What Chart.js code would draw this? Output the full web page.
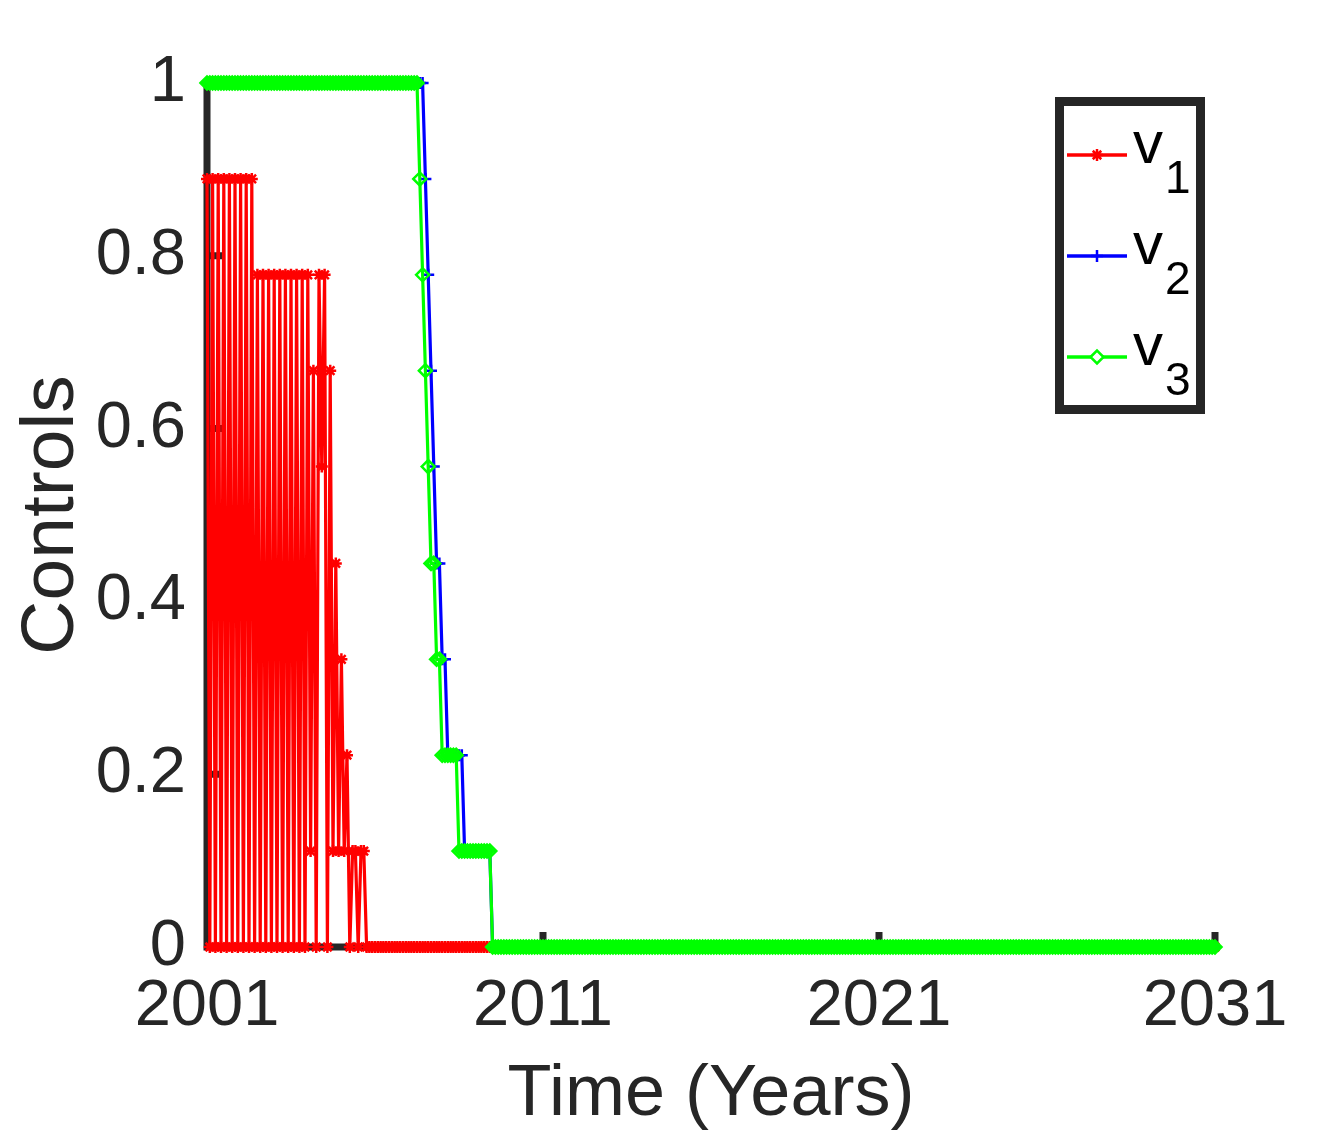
<!DOCTYPE html>
<html>
<head>
<meta charset="utf-8">
<script src="https://cdn.jsdelivr.net/npm/chart.js@4.4.0/dist/chart.umd.min.js"></script>
<style>
  html, body { margin: 0; padding: 0; background: #fff; }
  canvas { display: block; }
</style>
</head>
<body>
<canvas id="myChart" width="1344" height="1134"></canvas>
<script>
// monthly samples, 2001 .. 2031
var tempo = [];
for (let k = 0; k <= 360; k++) tempo.push(2001 + k / 12);

var xTicks = [2001, 2011, 2021, 2031];
var yTicks = [0, 0.2, 0.4, 0.6, 0.8, 1];
var nomes = ['v', 'v', 'v'];
var indices = ['1', '2', '3'];
var cores = ['#ff0000', '#0000ff', '#00ff00'];

// v1 (one line per year)
var v1 = [
  0.889,0,0.889,0,0.889,0,0.889,0,0.889,0,0.889,0,
  0.889,0,0.889,0,0.889,0,0.778,0,0.778,0,0.778,0,
  0.778,0,0.778,0,0.778,0,0.778,0,0.778,0,0.778,0,
  0.778,0.111,0.667,0,0.778,0.556,0.778,0,0.667,0.111,0.444,0.111,
  0.333,0.111,0.222,0,0.111,0.111,0,0.111,0.111,0,0,0,
  0,0,0,0,0,0,0,0,0,0,0,0,
  0,0,0,0,0,0,0,0,0,0,0,0,
  0,0,0,0,0,0,0,0,0,0,0,0,
  0,0,0,0,0,0,0,0,0,0,0,0,
  0,0,0,0,0,0,0,0,0,0,0,0,
  0,0,0,0,0,0,0,0,0,0,0,0,
  0,0,0,0,0,0,0,0,0,0,0,0,
  0,0,0,0,0,0,0,0,0,0,0,0,
  0,0,0,0,0,0,0,0,0,0,0,0,
  0,0,0,0,0,0,0,0,0,0,0,0,
  0,0,0,0,0,0,0,0,0,0,0,0,
  0,0,0,0,0,0,0,0,0,0,0,0,
  0,0,0,0,0,0,0,0,0,0,0,0,
  0,0,0,0,0,0,0,0,0,0,0,0,
  0,0,0,0,0,0,0,0,0,0,0,0,
  0,0,0,0,0,0,0,0,0,0,0,0,
  0,0,0,0,0,0,0,0,0,0,0,0,
  0,0,0,0,0,0,0,0,0,0,0,0,
  0,0,0,0,0,0,0,0,0,0,0,0,
  0,0,0,0,0,0,0,0,0,0,0,0,
  0,0,0,0,0,0,0,0,0,0,0,0,
  0,0,0,0,0,0,0,0,0,0,0,0,
  0,0,0,0,0,0,0,0,0,0,0,0,
  0,0,0,0,0,0,0,0,0,0,0,0,
  0,0,0,0,0,0,0,0,0,0,0,0,
  0
];

var v2 = [
  1,1,1,1,1,1,1,1,1,1,1,1,
  1,1,1,1,1,1,1,1,1,1,1,1,
  1,1,1,1,1,1,1,1,1,1,1,1,
  1,1,1,1,1,1,1,1,1,1,1,1,
  1,1,1,1,1,1,1,1,1,1,1,1,
  1,1,1,1,1,1,1,1,1,1,1,1,
  1,1,1,1,1,1,0.889,0.778,0.667,0.556,0.444,0.444,
  0.333,0.333,0.222,0.222,0.222,0.222,0.222,0.222,0.111,0.111,0.111,0.111,
  0.111,0.111,0.111,0.111,0.111,0.111,0,0,0,0,0,0,
  0,0,0,0,0,0,0,0,0,0,0,0,
  0,0,0,0,0,0,0,0,0,0,0,0,
  0,0,0,0,0,0,0,0,0,0,0,0,
  0,0,0,0,0,0,0,0,0,0,0,0,
  0,0,0,0,0,0,0,0,0,0,0,0,
  0,0,0,0,0,0,0,0,0,0,0,0,
  0,0,0,0,0,0,0,0,0,0,0,0,
  0,0,0,0,0,0,0,0,0,0,0,0,
  0,0,0,0,0,0,0,0,0,0,0,0,
  0,0,0,0,0,0,0,0,0,0,0,0,
  0,0,0,0,0,0,0,0,0,0,0,0,
  0,0,0,0,0,0,0,0,0,0,0,0,
  0,0,0,0,0,0,0,0,0,0,0,0,
  0,0,0,0,0,0,0,0,0,0,0,0,
  0,0,0,0,0,0,0,0,0,0,0,0,
  0,0,0,0,0,0,0,0,0,0,0,0,
  0,0,0,0,0,0,0,0,0,0,0,0,
  0,0,0,0,0,0,0,0,0,0,0,0,
  0,0,0,0,0,0,0,0,0,0,0,0,
  0,0,0,0,0,0,0,0,0,0,0,0,
  0,0,0,0,0,0,0,0,0,0,0,0,
  0
];

var v3 = [
  1,1,1,1,1,1,1,1,1,1,1,1,
  1,1,1,1,1,1,1,1,1,1,1,1,
  1,1,1,1,1,1,1,1,1,1,1,1,
  1,1,1,1,1,1,1,1,1,1,1,1,
  1,1,1,1,1,1,1,1,1,1,1,1,
  1,1,1,1,1,1,1,1,1,1,1,1,
  1,1,1,1,0.889,0.778,0.667,0.556,0.444,0.444,0.333,0.333,
  0.222,0.222,0.222,0.222,0.222,0.222,0.111,0.111,0.111,0.111,0.111,0.111,
  0.111,0.111,0.111,0.111,0.111,0.111,0,0,0,0,0,0,
  0,0,0,0,0,0,0,0,0,0,0,0,
  0,0,0,0,0,0,0,0,0,0,0,0,
  0,0,0,0,0,0,0,0,0,0,0,0,
  0,0,0,0,0,0,0,0,0,0,0,0,
  0,0,0,0,0,0,0,0,0,0,0,0,
  0,0,0,0,0,0,0,0,0,0,0,0,
  0,0,0,0,0,0,0,0,0,0,0,0,
  0,0,0,0,0,0,0,0,0,0,0,0,
  0,0,0,0,0,0,0,0,0,0,0,0,
  0,0,0,0,0,0,0,0,0,0,0,0,
  0,0,0,0,0,0,0,0,0,0,0,0,
  0,0,0,0,0,0,0,0,0,0,0,0,
  0,0,0,0,0,0,0,0,0,0,0,0,
  0,0,0,0,0,0,0,0,0,0,0,0,
  0,0,0,0,0,0,0,0,0,0,0,0,
  0,0,0,0,0,0,0,0,0,0,0,0,
  0,0,0,0,0,0,0,0,0,0,0,0,
  0,0,0,0,0,0,0,0,0,0,0,0,
  0,0,0,0,0,0,0,0,0,0,0,0,
  0,0,0,0,0,0,0,0,0,0,0,0,
  0,0,0,0,0,0,0,0,0,0,0,0,
  0
];

var eixoCor = '#262626';
var fonte = '"Liberation Sans", Arial, Helvetica, sans-serif';

function pontos(serie) {
  return tempo.map((t, k) => ({ x: t, y: serie[k] }));
}

// axis lines + inward ticks, drawn under the data (matlab style)
const eixos = {
  id: 'eixos',
  beforeDatasetsDraw(chart) {
    const c = chart.ctx;
    const sx = chart.scales.x, sy = chart.scales.y;
    const x0 = sx.getPixelForValue(2001), x1 = sx.getPixelForValue(2031);
    const y0 = sy.getPixelForValue(0), y1 = sy.getPixelForValue(1);
    c.save();
    c.strokeStyle = eixoCor;
    c.lineWidth = 7;
    c.lineCap = 'butt';
    c.beginPath();
    c.moveTo(x0 - 3.5, y0); c.lineTo(x1, y0);
    c.moveTo(x0, y0 + 3.5); c.lineTo(x0, y1);
    xTicks.forEach(v => {
      const px = sx.getPixelForValue(v);
      c.moveTo(px, y0); c.lineTo(px, y0 - 15);
    });
    yTicks.forEach(v => {
      const py = sy.getPixelForValue(v);
      c.moveTo(x0, py); c.lineTo(x0 + 15, py);
    });
    c.stroke();
    c.restore();
  }
};

function marcador(c, estilo, x, y, cor) {
  c.save();
  c.strokeStyle = cor;
  c.lineWidth = 2.5;
  c.beginPath();
  if (estilo === 'star') {
    const r = 6, d = r * Math.SQRT1_2;
    c.moveTo(x - r, y); c.lineTo(x + r, y);
    c.moveTo(x, y - r); c.lineTo(x, y + r);
    c.moveTo(x - d, y - d); c.lineTo(x + d, y + d);
    c.moveTo(x - d, y + d); c.lineTo(x + d, y - d);
    c.stroke();
  } else if (estilo === 'cross') {
    const r = 6;
    c.moveTo(x - r, y); c.lineTo(x + r, y);
    c.moveTo(x, y - r); c.lineTo(x, y + r);
    c.stroke();
  } else {
    const r = 6.5;
    c.moveTo(x - r, y); c.lineTo(x, y - r); c.lineTo(x + r, y); c.lineTo(x, y + r);
    c.closePath();
    c.fillStyle = '#fff';
    c.fill();
    c.stroke();
  }
  c.restore();
}

const legenda = {
  id: 'legenda',
  afterDatasetsDraw(chart) {
    const c = chart.ctx;
    const estilos = ['star', 'cross', 'rectRot'];
    c.save();
    c.fillStyle = '#fff';
    c.fillRect(1059, 101, 142, 309);
    c.strokeStyle = eixoCor;
    c.lineWidth = 9;
    c.strokeRect(1059.5, 101.5, 141, 308);
    nomes.forEach((n, k) => {
      const y = 155 + k * 101;
      c.strokeStyle = cores[k];
      c.lineWidth = 3.5;
      c.beginPath();
      c.moveTo(1067, y); c.lineTo(1127, y);
      c.stroke();
      marcador(c, estilos[k], 1097, y, cores[k]);
      c.fillStyle = '#000';
      c.textAlign = 'left';
      c.textBaseline = 'alphabetic';
      c.font = '60px ' + fonte;
      c.fillText(n, 1133, y + 8);
      c.font = '46px ' + fonte;
      c.fillText(indices[k], 1165, y + 38);
    });
    c.restore();
  }
};

const ctx = document.getElementById('myChart');

new Chart(ctx, {
  type: 'line',
  data: {
    datasets: [{
      label: 'v1',
      data: pontos(v1),
      borderColor: cores[0],
      borderWidth: 3.2,
      pointStyle: 'star',
      pointRadius: 6,
      pointBorderWidth: 2.5,
      pointBorderColor: cores[0],
      pointBackgroundColor: cores[0],
      order: 3,
      clip: false
    }, {
      label: 'v2',
      data: pontos(v2),
      borderColor: cores[1],
      borderWidth: 3.2,
      pointStyle: 'cross',
      pointRadius: 6,
      pointBorderWidth: 2.5,
      pointBorderColor: cores[1],
      pointBackgroundColor: cores[1],
      order: 2,
      clip: false
    }, {
      label: 'v3',
      data: pontos(v3),
      borderColor: cores[2],
      borderWidth: 3.2,
      pointStyle: 'rectRot',
      pointRadius: 6.5,
      pointBorderWidth: 2.5,
      pointBorderColor: cores[2],
      pointBackgroundColor: 'rgba(0,0,0,0)',
      order: 1,
      clip: false
    }]
  },
  options: {
    responsive: false,
    animation: false,
    events: [],
    elements: { line: { tension: 0, borderJoinStyle: 'round' } },
    layout: { padding: { top: 83, right: 129, left: 0, bottom: 0 } },
    plugins: { legend: { display: false }, tooltip: { enabled: false } },
    scales: {
      x: {
        type: 'linear',
        min: 2001,
        max: 2031,
        afterBuildTicks: s => { s.ticks = xTicks.map(v => ({ value: v })); },
        afterFit: s => { s.height = 187; },
        grid: { display: false, drawTicks: false },
        border: { display: false },
        ticks: {
          autoSkip: false,
          maxRotation: 0,
          padding: 28,
          color: eixoCor,
          font: { family: fonte, size: 65, lineHeight: 1 },
          callback: v => String(v)
        },
        title: {
          display: true,
          text: 'Time (Years)',
          color: eixoCor,
          padding: { top: 0, bottom: 3 },
          font: { family: fonte, size: 72, lineHeight: 1 }
        }
      },
      y: {
        min: 0,
        max: 1,
        afterBuildTicks: s => { s.ticks = yTicks.map(v => ({ value: v })); },
        afterFit: s => { s.width = 207; },
        grid: { display: false, drawTicks: false },
        border: { display: false },
        ticks: {
          padding: 21,
          color: eixoCor,
          font: { family: fonte, size: 65, lineHeight: 1 },
          callback: v => String(v)
        },
        title: {
          display: true,
          text: 'Controls',
          color: eixoCor,
          padding: { top: 15, bottom: 0 },
          font: { family: fonte, size: 75, lineHeight: 1 }
        }
      }
    }
  },
  plugins: [eixos, legenda]
});
</script>
</body>
</html>
